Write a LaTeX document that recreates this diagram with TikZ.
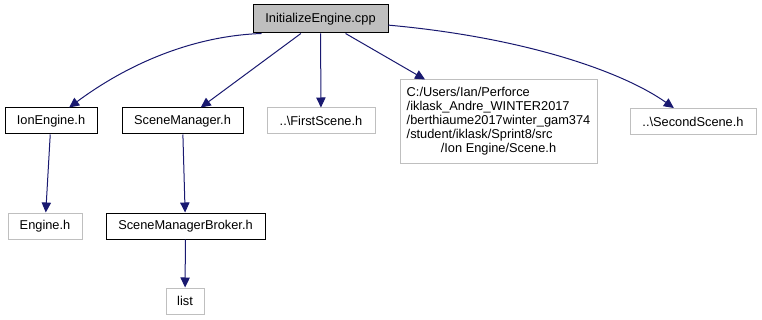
\documentclass[tikz,border=0pt]{standalone}
\usepackage{fontspec}
\setmainfont{Liberation Sans}
\usetikzlibrary{arrows.meta}
\definecolor{edgeblue}{HTML}{191970}
\definecolor{boxgray}{HTML}{BFBFBF}
\begin{document}
\begin{tikzpicture}[x=0.75pt,y=-0.75pt,
  font=\fontsize{9.6}{10.5}\selectfont,
  filebox/.style={draw=black,line width=0.75pt,minimum height=19.5pt,inner sep=0pt,text=black},
  extbox/.style={draw=boxgray,line width=0.75pt,minimum height=19.5pt,inner sep=0pt,text=black},
  dep/.style={draw=edgeblue,line width=0.75pt,-{Triangle[length=7.5pt,width=7pt]}}]
\useasboundingbox (0,0) rectangle (762,320);
% files of the project
\node[filebox,fill=boxgray,minimum width=101.25pt,minimum height=21pt] (root) at (320.5,19) {InitializeEngine.cpp};
\node[filebox,minimum width=69pt] (ion) at (51,121) {IonEngine.h};
\node[filebox,minimum width=90.75pt] (scm) at (182.5,121) {SceneManager.h};
\node[extbox,minimum width=81pt] (first) at (321,121) {..\textbackslash FirstScene.h};
\node[extbox,minimum width=147.75pt,minimum height=63pt] (scene) at (498.5,122)
  {\begin{tabular}{@{}l@{}}C:/Users/Ian/Perforce\\/iklask\_Andre\_WINTER2017\\/berthiaume2017winter\_gam374\\/student/iklask/Sprint8/src\\\multicolumn{1}{@{}c@{}}{/Ion Engine/Scene.h}\end{tabular}};
\node[extbox,minimum width=94.5pt] (second) at (693,121.5) {..\textbackslash SecondScene.h};
\node[extbox,minimum width=55.5pt] (engine) at (45,226) {Engine.h};
\node[filebox,minimum width=119.25pt] (broker) at (185.5,226) {SceneManagerBroker.h};
\node[extbox,minimum width=28.5pt] (list) at (185,301) {list};
% include dependencies
\draw[dep] ([xshift=6.75pt]root.south west) .. controls (190,36) and (125,66) .. (ion);
\draw[dep] (root) -- (scm);
\draw[dep] (root) -- (first);
\draw[dep] (root) -- (scene);
\draw[dep] (root) .. controls (520,37) and (620,70) .. (second);
\draw[dep] (ion) -- (engine);
\draw[dep] (scm) -- (broker);
\draw[dep] (broker) -- (list);
\end{tikzpicture}
\end{document}
